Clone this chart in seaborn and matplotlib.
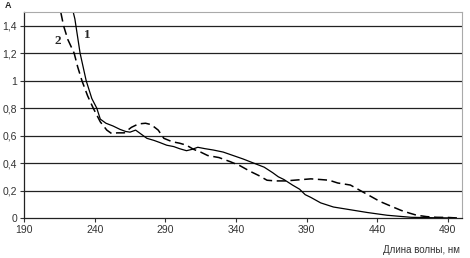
import matplotlib
matplotlib.use("Agg")
import matplotlib.pyplot as plt
import seaborn as sns
import pandas as pd

# Curve 1 (solid)
x1 = [222, 226, 229.7, 234, 238, 241.5, 244, 248, 253, 258, 262, 265, 269, 273, 277, 282, 286, 291, 296, 300,
      305, 309, 313, 318, 324, 331, 338, 345, 350, 355, 360, 366, 370, 374, 380, 385, 389, 393, 400, 409,
      421, 433, 447, 464, 480, 495]
y1 = [1.62, 1.45, 1.2, 1.0, 0.87, 0.8, 0.72, 0.69, 0.67, 0.645, 0.63, 0.625, 0.64, 0.61, 0.58, 0.565, 0.55, 0.53, 0.52, 0.505,
      0.49, 0.5, 0.515, 0.505, 0.495, 0.48, 0.455, 0.43, 0.41, 0.39, 0.37, 0.33, 0.3, 0.28, 0.24, 0.21, 0.17, 0.15, 0.11, 0.08,
      0.06, 0.04, 0.02, 0.005, 0.002, 0.0]

# Curve 2 (dashed)
x2 = [214, 216, 218, 221, 225.5, 228, 231, 235, 239, 244, 248.6, 252, 256, 261, 266, 271, 276, 280, 285, 289,
      295, 300, 305, 310, 315, 320, 328, 336, 343, 350, 356, 362, 368, 375, 381, 387, 393, 400, 406, 412,
      421, 428, 435, 442, 450, 457, 463, 468, 475, 482, 490, 497]
y2 = [1.62, 1.5, 1.4, 1.3, 1.2, 1.1, 1.0, 0.89, 0.8, 0.7, 0.64, 0.615, 0.62, 0.62, 0.66, 0.685, 0.69, 0.68, 0.64, 0.58,
      0.555, 0.545, 0.53, 0.5, 0.48, 0.455, 0.44, 0.41, 0.38, 0.34, 0.31, 0.275, 0.27, 0.27, 0.275, 0.28, 0.285, 0.28, 0.275, 0.255,
      0.24, 0.2, 0.16, 0.12, 0.085, 0.055, 0.035, 0.02, 0.01, 0.005, 0.004, 0.0]

xticks = [190, 240, 290, 340, 390, 440, 490]
yticks = [0, 0.2, 0.4, 0.6, 0.8, 1.0, 1.2, 1.4]
ytick_labels = ["0", "0,2", "0,4", "0,6", "0,8", "1", "1,2", "1,4"]

sns.set_theme(style="white")
plt.rcParams['font.family'] = ['Liberation Sans', 'DejaVu Sans']

fig = plt.figure(figsize=(4.7, 2.58), dpi=100)
ax = fig.add_axes([24/470, 1-218/258, (462-24)/470, (218-12)/258])

df1 = pd.DataFrame({"x": x1, "y": y1})
df2 = pd.DataFrame({"x": x2, "y": y2})
sns.lineplot(data=df1, x="x", y="y", ax=ax, color="black", linewidth=0.9, sort=False)
sns.lineplot(data=df2, x="x", y="y", ax=ax, color="black", linewidth=1.1, sort=False,
             linestyle=(0, (6, 3)))

ax.set_xlim(190, 500)
ax.set_ylim(0, 1.5)
ax.set_xticks(xticks)
ax.set_xticklabels([str(t) for t in xticks])
ax.set_yticks(yticks)
ax.set_yticklabels(ytick_labels)
for t in yticks[1:]:
    ax.axhline(t, color="#222222", linewidth=0.9, zorder=0)
ax.set_xlabel("")
ax.set_ylabel("")
ax.tick_params(axis="both", labelsize=7.5, colors="#333333", length=3, width=0.8, direction="out", pad=2)
ax.tick_params(axis="x", bottom=True)
ax.tick_params(axis="y", left=True)
for s in ["left", "bottom"]:
    ax.spines[s].set_color("#222222")
    ax.spines[s].set_linewidth(0.9)
for s in ["top", "right"]:
    ax.spines[s].set_color("#aaaaaa")
    ax.spines[s].set_linewidth(0.8)

ax.text(234.5, 1.33, "1", fontsize=9.5, fontweight="bold", ha="center", va="center",
        family=["Liberation Serif", "DejaVu Serif"])
ax.text(214, 1.29, "2", fontsize=9.5, fontweight="bold", ha="center", va="center",
        family=["Liberation Serif", "DejaVu Serif"])

fig.text(5/470, 1-6/258, "A", fontsize=6.5, fontweight="bold", ha="left", va="center")
fig.text(460/470, 1-250/258, "Длина волны, нм", fontsize=7, color="#333333", ha="right", va="center")

fig.savefig("out.png", dpi=100)
